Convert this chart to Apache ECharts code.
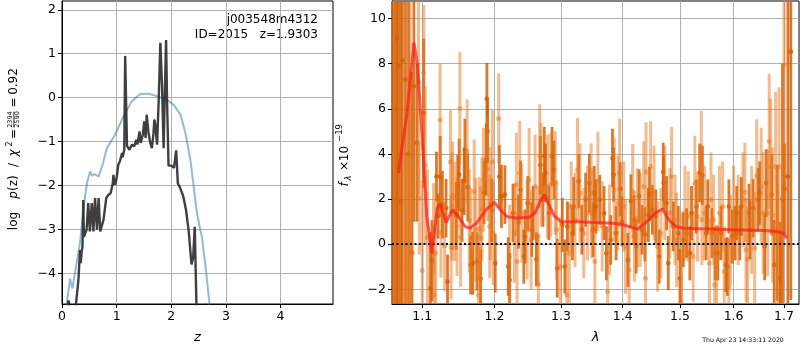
<!DOCTYPE html>
<html>
<head>
<meta charset="utf-8">
<script src="https://cdn.jsdelivr.net/npm/echarts@6/dist/echarts.min.js"></script>
<style>
  html, body { margin: 0; padding: 0; background: #fff; }
  #main { width: 800px; height: 350px; }
</style>
</head>
<body>
<div id="main"></div>
<script>
// p(z) panel
const zBlack = [0.08, 0.12, 0.15, 0.2, 0.257, 0.30, 0.33, 0.343, 0.36, 0.375, 0.39, 0.40, 0.42, 0.45, 0.48, 0.51, 0.545, 0.575, 0.605, 0.64,
  0.67, 0.70, 0.76, 0.81, 0.85, 0.89, 0.93, 0.94, 0.97, 1.00, 1.03, 1.06, 1.10, 1.11, 1.14, 1.156, 1.175, 1.19, 1.205, 1.235,
  1.28, 1.32, 1.36, 1.38, 1.42, 1.44, 1.48, 1.505, 1.53, 1.55, 1.58, 1.615, 1.645, 1.675, 1.69, 1.706, 1.74, 1.77, 1.80, 1.83,
  1.86, 1.88, 1.905, 1.925, 1.95, 2.0, 2.05, 2.09, 2.12, 2.16, 2.22, 2.27, 2.32, 2.37, 2.40, 2.43, 2.46, 2.48];
const pzBlack = [-5.0, -4.62, -4.85, -5.3, -4.68, -4.16, -3.47, -3.77, -3.5, -3.4, -2.33, -3.17, -3.1, -3.01, -2.40, -3.05, -2.40, -3.05, -2.29, -3.01,
  -2.29, -3.05, -2.78, -2.29, -2.21, -2.18, -1.95, -1.76, -1.99, -1.83, -1.53, -1.45, -1.26, -1.36, -1.19, 0.95, -0.2, -1.1, -1.11, -1.19,
  -1.07, -1.11, -0.96, -1.07, -0.77, -1.03, -0.84, -0.54, -0.92, -0.39, -0.77, -1.03, -1.15, -0.81, -0.5, -0.6, -1.07, -0.05, 1.25, 0.3,
  -1.15, 0.0, 1.31, -0.2, -1.55, -1.55, -1.6, -1.2, -1.95, -2.05, -2.25, -2.56, -3.05, -3.8, -3.65, -2.94, -4.7, -6.0];

const zBlue = [0.05, 0.086, 0.147, 0.19, 0.25, 0.33, 0.42, 0.465, 0.514, 0.55, 0.6, 0.67, 0.75, 0.82, 0.97, 1.125, 1.28, 1.43, 1.58, 1.74,
  1.92, 2.04, 2.17, 2.26, 2.35, 2.41, 2.47, 2.53, 2.56, 2.62, 2.70, 2.76];
const pzBlue = [-5.2, -4.7, -4.12, -4.35, -3.9, -3.3, -2.25, -1.91, -1.68, -1.78, -1.74, -1.8, -1.5, -1.15, -0.85, -0.43, -0.08, 0.08, 0.09, 0.03,
  -0.05, -0.16, -0.39, -0.81, -1.42, -2.02, -2.63, -3.01, -3.17, -3.77, -4.7, -5.3];

const zTicks = [0, 1, 2, 3, 4];
const pzTicks = [-4, -3, -2, -1, 0, 1, 2];

// spectrum panel, two grism orientations
const lamDark = [1.062, 1.065, 1.067, 1.069, 1.072, 1.074, 1.078, 1.082, 1.086, 1.089,
  1.093, 1.102, 1.111, 1.113, 1.119, 1.121, 1.124, 1.127, 1.132, 1.134,
  1.146, 1.148, 1.150, 1.154, 1.157, 1.158, 1.162, 1.166, 1.169, 1.175,
  1.180, 1.185, 1.188, 1.189, 1.190, 1.196, 1.201, 1.207, 1.210, 1.215,
  1.220, 1.222, 1.227, 1.235, 1.238, 1.243, 1.245, 1.249, 1.255, 1.257,
  1.262, 1.268, 1.272, 1.274, 1.276, 1.281, 1.286, 1.289, 1.294, 1.302,
  1.306, 1.310, 1.318, 1.320, 1.328, 1.333, 1.339, 1.345, 1.351, 1.353,
  1.356, 1.362, 1.369, 1.373, 1.380, 1.383, 1.385, 1.389, 1.396, 1.399,
  1.409, 1.414, 1.419, 1.423, 1.428, 1.433, 1.438, 1.444, 1.446, 1.451,
  1.457, 1.463, 1.470, 1.471, 1.476, 1.479, 1.488, 1.497, 1.500, 1.506,
  1.512, 1.518, 1.521, 1.530, 1.536, 1.541, 1.548, 1.551, 1.559, 1.565,
  1.570, 1.576, 1.585, 1.588, 1.591, 1.597, 1.603, 1.606, 1.612, 1.615,
  1.630, 1.632, 1.638, 1.648, 1.651, 1.661, 1.664, 1.675, 1.680, 1.686,
  1.692, 1.693, 1.697, 1.701, 1.708, 1.714];
const fluxDark = [2.0, 6.0, 9.1, 7.9, 1.9, 8.15, 7.3, 4.0, -0.35, 7.0,
  4.5, 5.8, -1.96, -0.73, 3.0, 1.25, 3.0, 1.75, 1.6, -1.66,
  1.26, 2.56, 3.08, 1.5, 2.79, 4.16, 2.53, -0.92, -0.84, -0.77,
  -1.53, 2.3, 3.75, 6.44, 5.0, 1.5, -0.84, 3.0, 2.12, 2.2,
  -0.99, -1.59, 1.38, 1.0, 2.41, -0.55, 0.34, 1.82, 0.64, 1.38,
  -0.67, 3.5, 1.97, 3.9, 3.16, 1.38, 3.9, 3.3, -1.07, 0.86,
  -0.99, 0.79, 0.49, 1.67, 2.79, 0.64, 1.97, 2.71, 0.64, 2.27,
  1.67, 1.97, 1.38, -0.4, 0.19, 3.82, 3.08, 0.49, 2.44, 1.0,
  -0.7, 1.9, 1.08, -0.1, 2.12, 0.64, 0.44, 1.3, 2.22, 1.53,
  1.23, -0.55, 3.2, 2.74, 1.82, -0.84, 0.79, 0.49, -1.51, 0.19,
  0.49, -0.4, 1.38, 1.67, 3.16, 3.05, 0.49, 1.67, 0.49, -0.4,
  -0.4, 0.49, -0.92, -0.99, 1.67, 0.34, 0.49, 1.38, 0.49, 1.67,
  1.38, 0.64, 1.6, 1.97, 2.27, -0.1, 2.71, 2.19, -0.92, 0.5,
  -1.51, -2.2, 2.0, 2.46, 3.0, 8.53];
const errDark = [12, 12, 14, 11, 10, 12, 10, 9, 8, 6,
  3.5, 3.3, 2.5, 1.8, 1.1, 1.0, 1.8, 1.5, 1.3, 1.2,
  1.5, 1.4, 1.6, 1.4, 1.5, 1.4, 1.5, 1.3, 1.4, 1.3,
  1.3, 1.4, 1.6, 1.6, 1.4, 1.4, 1.3, 1.4, 1.4, 1.3,
  1.3, 1.2, 1.3, 1.2, 1.3, 1.2, 1.2, 1.2, 1.2, 1.2,
  1.2, 1.3, 1.2, 1.3, 1.3, 1.2, 1.3, 1.3, 1.3, 1.2,
  1.2, 1.1, 1.2, 1.3, 1.2, 1.1, 1.2, 1.3, 1.2, 1.2,
  1.2, 1.1, 1.2, 1.2, 1.1, 1.3, 1.2, 1.2, 1.2, 1.1,
  1.2, 1.2, 1.1, 1.2, 1.2, 1.1, 1.2, 1.2, 1.2, 1.1,
  1.2, 1.2, 1.3, 1.2, 1.2, 1.2, 1.1, 1.2, 1.3, 1.2,
  1.1, 1.2, 1.2, 1.2, 1.3, 1.3, 1.2, 1.2, 1.1, 1.2,
  1.2, 1.2, 1.2, 1.3, 1.2, 1.2, 1.2, 1.2, 1.2, 1.3,
  1.3, 1.3, 1.3, 1.4, 1.4, 1.5, 1.5, 1.8, 2.0, 3.0,
  2.5, 2.8, 6, 2.0, 9, 11];

const lamLight = [1.063, 1.079, 1.084, 1.087, 1.095, 1.096, 1.100, 1.102, 1.104, 1.107,
  1.115, 1.116, 1.118, 1.124, 1.125, 1.130, 1.138, 1.139, 1.140, 1.141,
  1.144, 1.147, 1.151, 1.152, 1.161, 1.164, 1.166, 1.171, 1.173, 1.177,
  1.178, 1.180, 1.182, 1.184, 1.190, 1.193, 1.194, 1.197, 1.198, 1.206,
  1.222, 1.229, 1.232, 1.233, 1.237, 1.240, 1.248, 1.251, 1.254, 1.260,
  1.264, 1.265, 1.267, 1.269, 1.279, 1.284, 1.291, 1.293, 1.299, 1.309,
  1.313, 1.316, 1.322, 1.326, 1.330, 1.336, 1.342, 1.348, 1.349, 1.354,
  1.359, 1.366, 1.375, 1.378, 1.386, 1.392, 1.395, 1.402, 1.405, 1.411,
  1.417, 1.420, 1.425, 1.430, 1.436, 1.439, 1.440, 1.448, 1.454, 1.460,
  1.466, 1.473, 1.482, 1.485, 1.491, 1.494, 1.502, 1.503, 1.509, 1.515,
  1.524, 1.527, 1.532, 1.539, 1.540, 1.545, 1.554, 1.557, 1.562, 1.564,
  1.568, 1.573, 1.579, 1.582, 1.591, 1.594, 1.600, 1.609, 1.618, 1.622,
  1.624, 1.627, 1.635, 1.641, 1.645, 1.654, 1.658, 1.667, 1.670, 1.673,
  1.677, 1.683, 1.687, 1.690, 1.696, 1.700];
const fluxLight = [4.0, -1.07, 3.0, -0.4, 7.2, 2.04, -1.17, 7.6, 3.5, 0.3,
  0.71, -2.25, -0.4, 5.5, 0.52, -0.07, 3.64, -0.15, 1.67, 2.15,
  1.45, 0.79, 6.01, 0.31, 4.12, 1.05, 0.19, 2.34, 0.64, -2.25,
  0.67, 0.27, 1.56, 2.86, 3.33, 0.79, 1.79, 3.64, 0.49, 5.57,
  -0.55, 0.49, 2.64, -0.77, 3.16, 1.38, 0.64, 2.86, 0.19, 2.56,
  0.37, -1.76, 3.9, 3.08, 2.56, 2.64, 2.71, 0.64, -0.99, -2.25,
  -0.4, 1.67, 1.08, 3.3, 2.27, 0.49, 1.38, 2.27, 1.38, -0.77,
  2.79, 0.79, -2.1, 0.64, 2.41, 1.82, 3.16, 1.67, -0.1, -1.14,
  2.34, 0.34, 1.16, 1.08, 2.56, -1.51, 3.2, 3.45, 2.27, -0.1,
  0.49, 2.27, 1.38, 3.0, 1.08, 0.19, -2.55, -0.55, 1.38, 1.23,
  -0.55, 2.71, 1.23, 4.31, 1.08, 1.38, -0.84, 1.97, 1.08, -1.81,
  -1.14, 1.38, 1.67, -1.21, -1.88, 0.19, 1.38, 1.08, 1.97, 2.3,
  -0.25, -0.65, 1.08, -0.18, 3.04, 2.56, 1.38, 1.38, 4.56, 3.45,
  1.3, 3.45, -0.84, 3.45, -1.88, 7.94];
const errLight = [12, 5, 8, 4, 5, 2.5, 4, 3, 3.5, 3,
  2.0, 2.0, 2.3, 2.5, 2.0, 2.0, 2.3, 2.3, 2.4, 2.4,
  2.2, 2.2, 2.5, 2.2, 2.3, 2.3, 2.3, 2.3, 2.3, 2.2,
  2.3, 2.3, 2.3, 2.3, 2.3, 2.3, 2.5, 2.3, 2.3, 2.0,
  2.3, 2.2, 2.3, 2.2, 2.3, 2.2, 2.2, 2.3, 2.2, 2.3,
  2.2, 2.2, 2.3, 2.3, 2.3, 2.3, 2.3, 2.2, 2.2, 2.2,
  2.2, 2.0, 2.1, 2.3, 2.2, 2.0, 2.1, 2.2, 2.0, 2.1,
  2.2, 2.0, 2.1, 2.0, 2.3, 2.1, 2.4, 2.0, 2.1, 2.0,
  2.1, 2.0, 2.2, 2.1, 2.0, 2.1, 2.2, 2.0, 2.1, 2.0,
  2.0, 2.1, 2.0, 2.2, 2.0, 2.1, 2.0, 2.0, 2.1, 2.0,
  2.0, 2.1, 2.0, 1.6, 2.0, 2.1, 2.0, 2.1, 2.0, 2.0,
  2.0, 2.1, 2.0, 2.0, 2.1, 2.0, 2.1, 2.0, 2.1, 2.2,
  2.3, 2.3, 2.4, 2.5, 2.5, 2.6, 2.7, 2.8, 3.0, 3.0,
  3.0, 3.3, 3.5, 3.5, 4.0, 6.0];

const lamModel = [1.069, 1.08, 1.089, 1.094, 1.1, 1.106, 1.113, 1.116, 1.12, 1.124,
  1.128, 1.132, 1.136, 1.141, 1.149, 1.158, 1.165, 1.174, 1.188, 1.2,
  1.208, 1.218, 1.232, 1.251, 1.26, 1.27, 1.275, 1.28, 1.29, 1.3,
  1.326, 1.355, 1.385, 1.402, 1.425, 1.44, 1.456, 1.469, 1.48, 1.493,
  1.506, 1.538, 1.597, 1.66, 1.687, 1.699, 1.706];
const fluxModel = [3.16, 5.82, 8.93, 7.9, 4.64, 1.23, -0.4, 0.49, 1.6, 1.79,
  1.38, 0.96, 1.23, 1.53, 1.23, 0.79, 0.71, 0.93, 1.53, 1.85,
  1.53, 1.23, 1.16, 1.2, 1.38, 2.04, 2.19, 1.82, 1.23, 1.0,
  1.0, 0.96, 0.93, 0.86, 0.67, 0.96, 1.38, 1.56, 1.08, 0.79,
  0.71, 0.68, 0.64, 0.61, 0.56, 0.49, 0.27];

const lamTicks = [1.1, 1.2, 1.3, 1.4, 1.5, 1.6, 1.7];
const fluxTicks = [-2, 0, 2, 4, 6, 8, 10];

const FONT = 'DejaVu Sans';
const minus = v => String(v).replace('-', '\u2212');
const zip = (a, b) => a.map((v, i) => [v, b[i]]);
// wavelength axis is drawn on ln(lambda)
const logLam = (lam, f, e) => lam.map((v, i) => [Math.log(v), f[i], e[i]]);

function errBars(color, lw, r) {
  return function (params, api) {
    const x = api.value(0), y = api.value(1), e = api.value(2);
    const lo = api.coord([x, y - e]);
    const hi = api.coord([x, y + e]);
    const c = api.coord([x, y]);
    return {
      type: 'group',
      children: [
        { type: 'line', shape: { x1: lo[0], y1: lo[1], x2: hi[0], y2: hi[1] }, style: { stroke: color, lineWidth: lw } },
        { type: 'circle', shape: { cx: c[0], cy: c[1], r: r }, style: { fill: color } }
      ]
    };
  };
}

const axisCommon = {
  axisLine: { show: true, onZero: false, lineStyle: { color: '#000', width: 1 } },
  axisTick: { show: true, inside: false, length: 4, lineStyle: { color: '#000' } },
  splitLine: { show: true, lineStyle: { color: '#b0b0b0', width: 1 } },
  axisLabel: { color: '#000', fontSize: 12.5, fontFamily: FONT, margin: 6 }
};

function valAxis(grid, min, max, ticks, fmt, extra) {
  return Object.assign({
    type: 'value', gridIndex: grid, min: min, max: max,
    axisLine: axisCommon.axisLine,
    axisTick: Object.assign({}, axisCommon.axisTick, { customValues: ticks }),
    splitLine: axisCommon.splitLine,
    axisLabel: Object.assign({}, axisCommon.axisLabel, { customValues: ticks, formatter: fmt })
  }, extra || {});
}

const chart = echarts.init(document.getElementById('main'));

const txt = (x, y, text, size, extra) => ({
  type: 'text', x: x, y: y, silent: true,
  style: Object.assign({ text: text, fill: '#000', fontSize: size, fontFamily: FONT, align: 'center', verticalAlign: 'middle' }, extra || {})
});
const vtxt = (x, y, text, size, extra) => Object.assign(txt(x, y, text, size, extra), { rotation: Math.PI / 2 });

chart.setOption({
  animation: false,
  grid: [
    { left: 62, top: 1, width: 271, height: 303, show: true, borderColor: '#000', borderWidth: 1 },
    { left: 392, top: 1, width: 407, height: 303, show: true, borderColor: '#000', borderWidth: 1 }
  ],
  xAxis: [
    valAxis(0, 0, 4.96, zTicks, v => minus(v), {
      name: 'z', nameLocation: 'middle', nameGap: 27,
      nameTextStyle: { fontSize: 13, fontStyle: 'italic', fontFamily: FONT, color: '#000' }
    }),
    valAxis(1, Math.log(1.0607), Math.log(1.731), lamTicks.map(Math.log), v => Math.exp(v).toFixed(1), {
      name: 'λ', nameLocation: 'middle', nameGap: 27,
      nameTextStyle: { fontSize: 13, fontStyle: 'italic', fontFamily: FONT, color: '#000' }
    })
  ],
  yAxis: [
    valAxis(0, -4.7, 2.2, pzTicks, v => minus(v)),
    valAxis(1, -2.65, 10.78, fluxTicks, v => minus(v))
  ],
  series: [
    {
      type: 'line', xAxisIndex: 0, yAxisIndex: 0, data: zip(zBlue, pzBlue),
      showSymbol: false, clip: true, lineStyle: { color: '#1f77b4', opacity: 0.5, width: 2 }
    },
    {
      type: 'line', xAxisIndex: 0, yAxisIndex: 0, data: zip(zBlack, pzBlack),
      showSymbol: false, clip: true, lineStyle: { color: '#2a2a2a', opacity: 0.9, width: 2.4 }
    },
    {
      type: 'custom', xAxisIndex: 1, yAxisIndex: 1, clip: true,
      data: logLam(lamDark, fluxDark, errDark),
      renderItem: errBars('rgba(214,96,6,0.85)', 2.8, 2.4)
    },
    {
      type: 'custom', xAxisIndex: 1, yAxisIndex: 1, clip: true,
      data: logLam(lamLight, fluxLight, errLight),
      renderItem: errBars('rgba(232,120,30,0.5)', 3.0, 2.5)
    },
    {
      type: 'line', xAxisIndex: 1, yAxisIndex: 1,
      data: zip(lamModel.map(Math.log), fluxModel),
      showSymbol: false, clip: true, z: 5,
      lineStyle: { color: '#ff1a1a', opacity: 0.7, width: 3 },
      markLine: {
        silent: true, symbol: 'none', label: { show: false },
        lineStyle: { color: '#000', type: [2, 2.5], width: 1.8 },
        data: [{ yAxis: 0 }]
      }
    }
  ],
  graphic: [
    txt(318, 20, 'j003548m4312', 12, { align: 'right' }),
    txt(318, 35, 'ID=2015   z=1.9303', 12, { align: 'right' }),
    // left y label: log p(z) / chi^2 = 2394/2590 = 0.92
    vtxt(14, 221, 'log', 12),
    vtxt(14, 187, '{i|p}(z)', 12, { rich: { i: { fontStyle: 'italic', fontSize: 12, fontFamily: FONT } } }),
    vtxt(14, 165, '/', 12),
    vtxt(14, 153, 'χ', 12, { fontStyle: 'italic' }),
    vtxt(10, 144, '2', 8),
    vtxt(14, 134, '=', 12),
    vtxt(10.5, 119.5, '2394', 6.5),
    { type: 'line', silent: true, shape: { x1: 13.8, y1: 111.5, x2: 13.8, y2: 127.5 }, style: { stroke: '#000', lineWidth: 0.7 } },
    vtxt(17.5, 119.5, '2590', 6.5),
    vtxt(14, 102.5, '=', 12),
    vtxt(14, 81.5, '0.92', 12),
    // right y label: f_lambda x 10^-19
    vtxt(345, 184.5, 'f', 12, { fontStyle: 'italic' }),
    vtxt(348.5, 178, 'λ', 8.5, { fontStyle: 'italic' }),
    vtxt(345, 166, '×', 12),
    vtxt(345, 153.5, '10', 12),
    vtxt(339.5, 133, '\u221219', 8.5),
    txt(743, 340, 'Thu Apr 23 14:33:11 2020', 6.2)
  ]
});
</script>
</body>
</html>
